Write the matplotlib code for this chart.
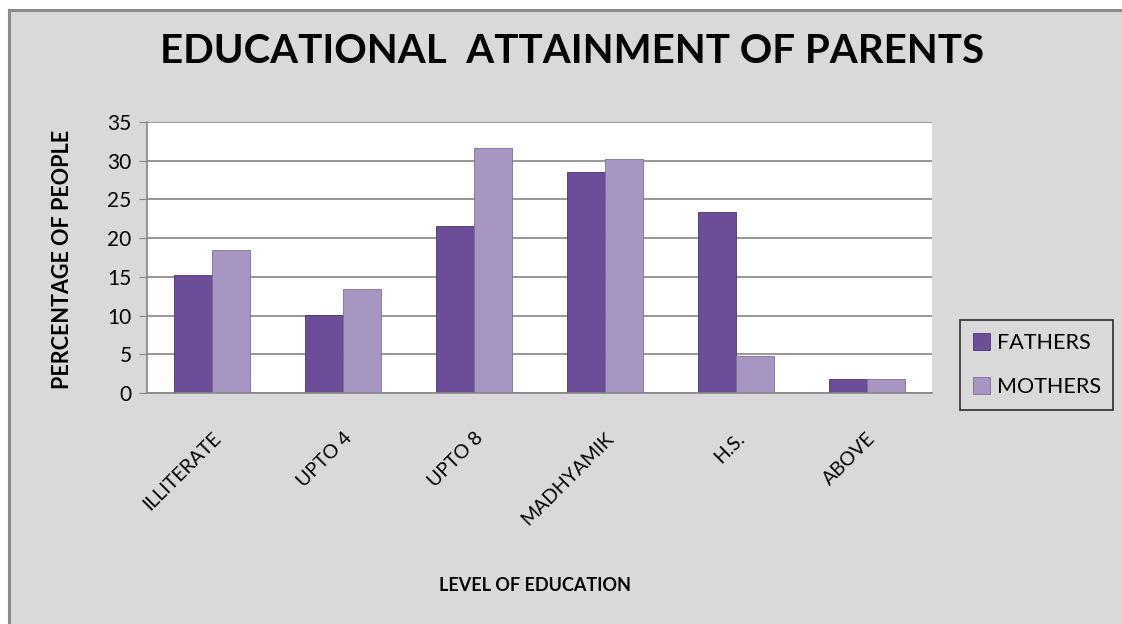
import matplotlib
matplotlib.use("Agg")
import matplotlib.pyplot as plt
import numpy as np

categories = ["ILLITERATE", "UPTO 4", "UPTO 8", "MADHYAMIK", "H.S.", "ABOVE"]
fathers = [15.2, 10.1, 21.6, 28.5, 23.4, 1.8]
mothers = [18.5, 13.4, 31.7, 30.2, 4.8, 1.8]

plt.rcParams['font.family'] = ['Lato', 'DejaVu Sans']

fig = plt.figure(figsize=(11.22, 6.24), dpi=100)
fig.patch.set_facecolor("white")

# grey chart area with border on top and left only (rest runs off the image)
W, H = 1122.0, 624.0
bg = plt.Rectangle((9 / W, 0), 1, 1 - 10 / H, transform=fig.transFigure,
                   facecolor="#d9d9d9", edgecolor="none", zorder=-10)
fig.patches.append(bg)
fig.add_artist(plt.Line2D([9 / W, 1], [1 - 10 / H, 1 - 10 / H], transform=fig.transFigure,
                          color="#8c8c8c", linewidth=2.2))
fig.add_artist(plt.Line2D([9 / W, 9 / W], [0, 1 - 10 / H], transform=fig.transFigure,
                          color="#8c8c8c", linewidth=2.2))

ax = fig.add_axes([0.131, 0.370, 0.700, 0.4345])
ax.set_facecolor("white")

x = np.arange(len(categories))
w = 0.29
ax.bar(x - w / 2, fathers, w, color="#6b4d98", edgecolor="#4a3570", linewidth=0.6, label="FATHERS")
ax.bar(x + w / 2, mothers, w, color="#a796c2", edgecolor="#7e6e99", linewidth=0.6, label="MOTHERS")

ax.set_ylim(0, 35)
ax.set_xlim(-0.5, len(categories) - 0.5)
ax.set_yticks(range(0, 36, 5))
ax.yaxis.grid(True, color="#868686", linewidth=1.2)
ax.set_axisbelow(True)
for s in ["top", "right"]:
    ax.spines[s].set_visible(False)
ax.spines["left"].set_color("#868686")
ax.spines["bottom"].set_color("#868686")
ax.spines["left"].set_linewidth(1.2)
ax.spines["bottom"].set_linewidth(1.2)
ax.tick_params(axis="y", length=6, color="#868686", labelsize=15, pad=5)
ax.tick_params(axis="x", length=0, labelsize=14, pad=26)
ax.set_xticks(x)
ax.set_xticklabels(categories, rotation=45, ha="right", rotation_mode="anchor")

fig.text(0.510, 0.918, "EDUCATIONAL  ATTAINMENT OF PARENTS", ha="center", va="center",
         fontsize=29, fontweight="bold")
fig.text(0.056, 0.585, "PERCENTAGE OF PEOPLE", ha="center", va="center", rotation=90,
         fontsize=15.5, fontweight="bold")
fig.text(0.477, 0.062, "LEVEL OF EDUCATION", ha="center", va="center",
         fontsize=13, fontweight="bold")

leg = fig.legend(loc="center", bbox_to_anchor=(0.924, 0.415), fontsize=15.5,
                 frameon=True, fancybox=False, handlelength=0.8, handleheight=0.8,
                 handletextpad=0.3, labelspacing=1.1, borderpad=0.6)
leg.get_frame().set_edgecolor("black")
leg.get_frame().set_facecolor("#d9d9d9")
leg.get_frame().set_linewidth(1.2)

fig.savefig("out.png", dpi=100, facecolor=fig.get_facecolor())
